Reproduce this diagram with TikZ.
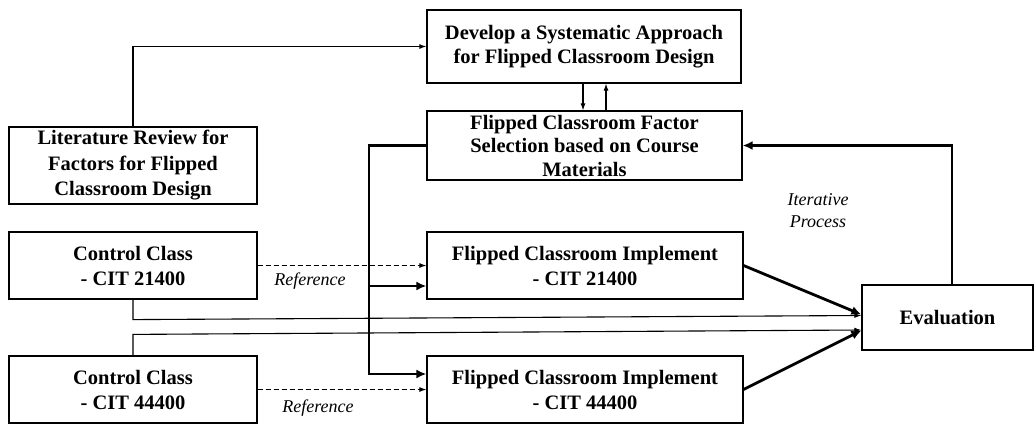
\documentclass[tikz,border=0pt]{standalone}
\usepackage{fontspec}
\setmainfont{Liberation Serif}
\usetikzlibrary{arrows.meta,calc}
\begin{document}
\begin{tikzpicture}[x=1pt,y=-1pt,
 box/.style={draw, line width=1.2pt, align=center, inner sep=0pt, font=\bfseries\fontsize{20.5}{25}\selectfont},
 lbl/.style={font=\itshape\fontsize{18}{22}\selectfont, inner sep=0pt},
 thinarr/.style={line width=1.1pt, -{Latex[length=7pt,width=5pt]}},
 thickarr/.style={line width=2.8pt, -{Latex[length=10pt,width=9pt]}},
 refarr/.style={line width=1.1pt, dash pattern=on 5pt off 3pt, -{Latex[length=7pt,width=5pt]}}]
\useasboundingbox (0,0) rectangle (1034,426);
\node[box, minimum width=314pt, minimum height=73pt, font=\bfseries\fontsize{20.5}{23.5}\selectfont] (dev) at (584,46.5) {Develop a Systematic Approach\\for Flipped Classroom Design};
\node[box, minimum width=315pt, minimum height=69pt, font=\bfseries\fontsize{20.5}{23.5}\selectfont] (fac) at (584.5,145.5) {Flipped Classroom Factor\\Selection based on Course\\Materials};
\node[box, minimum width=248pt, minimum height=77pt, font=\bfseries\fontsize{20.5}{25.5}\selectfont] (lit) at (133,165.5) {Literature Review for\\Factors for Flipped\\Classroom Design};
\node[box, minimum width=248pt, minimum height=67pt] (c1) at (133,265.5) {Control Class\\- CIT 21400};
\node[box, minimum width=248pt, minimum height=67pt] (c2) at (133,389.5) {Control Class\\- CIT 44400};
\node[box, minimum width=316pt, minimum height=67pt] (f1) at (585,265.5) {Flipped Classroom Implement\\- CIT 21400};
\node[box, minimum width=316pt, minimum height=67pt] (f2) at (585,389.5) {Flipped Classroom Implement\\- CIT 44400};
\node[box, minimum width=171pt, minimum height=65pt] (eval) at (947.5,317.5) {Evaluation};
\node[lbl] (r1) at (310,281) {Reference};
\node[lbl] (r2) at (318,408) {Reference};
\node[lbl, align=center] (it) at (818,211) {Iterative\\Process};
\coordinate (a) at (583,0);
\coordinate (b) at (606,0);
\coordinate (bus) at (369,0);
% literature to develop
\draw[thinarr] (lit.north) |- (dev.west);
% develop <-> factor
\draw[thinarr] (a |- dev.south) -- (a |- fac.north);
\draw[thinarr] (b |- fac.north) -- (b |- dev.south);
% bus
\draw[thickarr] (fac.west) -| ($(bus)+(0,374)$) -- ($(f2.west)+(0,-15.5)$);
\draw[thickarr] ($(bus)+(0,286)$) -- ($(f1.west)+(0,20.5)$);
% feedback
\draw[thickarr] ($(eval.north)+(4.5,0)$) |- (fac.east);
% references
\draw[refarr] (c1.east) -- (f1.west);
\draw[refarr] (c2.east) -- (f2.west);
% control to evaluation
\draw[thinarr] (c1.south) -- ++(0,20) -- ($(eval.west)+(0,-2)$);
\draw[thinarr] (c2.north) -- ++(0,-21) -- ($(eval.west)+(0,12.5)$);
% flipped to evaluation
\draw[thickarr] (f1.east) -- ($(eval.west)+(0,-3)$);
\draw[thickarr] (f2.east) -- ($(eval.west)+(0,13)$);
\end{tikzpicture}
\end{document}
